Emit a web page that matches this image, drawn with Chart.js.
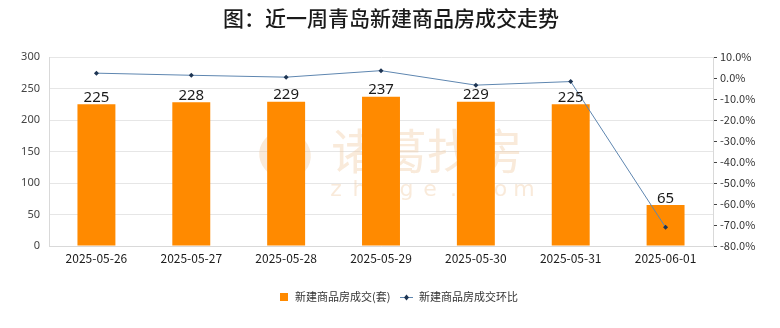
<!DOCTYPE html>
<html>
<head>
<meta charset="utf-8">
<script src="https://cdn.jsdelivr.net/npm/chart.js@4"></script>
<style>
html,body{margin:0;padding:0;background:#fff;}
#wrap{width:780px;height:328px;position:relative;}
</style>
</head>
<body>
<div id="wrap"><canvas id="c" width="780" height="328"></canvas></div>
<script>
const titleText = '图：近一周青岛新建商品房成交走势';
const categories = ['2025-05-26','2025-05-27','2025-05-28','2025-05-29','2025-05-30','2025-05-31','2025-06-01'];
const barLabel = '新建商品房成交(套)';
const lineLabel = '新建商品房成交环比';
const deals = [225, 228, 229, 237, 229, 225, 65];
const dealsMoM = [2.3, 1.3, 0.4, 3.5, -3.4, -1.7, -71.1];
const leftTicks = [0, 50, 100, 150, 200, 250, 300];
const rightTicks = [10, 0, -10, -20, -30, -40, -50, -60, -70, -80];

const CJK = '"Noto Sans CJK SC", "Noto Sans", sans-serif';
const BAR_COLOR = '#FF8A00';
const LINE_COLOR = '#5e86b0';
const POINT_COLOR = '#1e3553';

const watermark = {
  id: 'watermark',
  beforeDatasetsDraw(chart) {
    const ctx = chart.ctx;
    ctx.save();
    ctx.fillStyle = 'rgba(240,205,168,0.42)';
    ctx.font = '48px ' + CJK;
    ctx.textAlign = 'center';
    ctx.textBaseline = 'middle';
    ctx.fillText('诸葛找房', 427, 151);
    ctx.font = '22px "DejaVu Sans", sans-serif';
    const s = 'zhuge.com';
    for (let i = 0; i < s.length; i++) {
      ctx.fillText(s[i], 336 + i * 23.5, 190);
    }
    ctx.beginPath();
    ctx.ellipse(285, 155, 26, 24, 0.3, 0, Math.PI * 2);
    ctx.fill();
    ctx.restore();
  }
};

const extras = {
  id: 'extras',
  afterDatasetsDraw(chart) {
    const ctx = chart.ctx;
    ctx.save();
    const meta = chart.getDatasetMeta(0);
    ctx.fillStyle = '#1a1a1a';
    ctx.font = '15px "Noto Sans", sans-serif';
    ctx.textAlign = 'center';
    ctx.textBaseline = 'bottom';
    meta.data.forEach((bar, i) => {
      ctx.fillText(String(deals[i]), bar.x, bar.y + 1);
    });
    ctx.restore();
  },
  afterDraw(chart) {
    const ctx = chart.ctx;
    ctx.save();
    ctx.fillStyle = '#1a1a1a';
    ctx.font = '500 21px ' + CJK;
    ctx.textAlign = 'center';
    ctx.textBaseline = 'middle';
    ctx.fillText(titleText, 391, 18);
    const ly = 297;
    ctx.font = '11px ' + CJK;
    ctx.textBaseline = 'middle';
    ctx.textAlign = 'left';
    ctx.fillStyle = BAR_COLOR;
    ctx.fillRect(280, ly - 4, 8, 8);
    ctx.fillStyle = '#333';
    ctx.fillText(barLabel, 295, ly);
    ctx.strokeStyle = LINE_COLOR;
    ctx.lineWidth = 1;
    ctx.beginPath();
    ctx.moveTo(400, ly + 0.5);
    ctx.lineTo(413, ly + 0.5);
    ctx.stroke();
    ctx.fillStyle = POINT_COLOR;
    ctx.beginPath();
    ctx.moveTo(406.5, ly - 2.5);
    ctx.lineTo(409, ly + 0.5);
    ctx.lineTo(406.5, ly + 3.5);
    ctx.lineTo(404, ly + 0.5);
    ctx.closePath();
    ctx.fill();
    ctx.fillStyle = '#333';
    ctx.fillText(lineLabel, 419, ly);
    ctx.restore();
  }
};

new Chart(document.getElementById('c'), {
  data: {
    labels: categories,
    datasets: [
      {
        type: 'bar',
        label: barLabel,
        data: deals,
        backgroundColor: BAR_COLOR,
        yAxisID: 'y',
        barPercentage: 0.4,
        categoryPercentage: 1,
        order: 2
      },
      {
        type: 'line',
        label: lineLabel,
        data: dealsMoM,
        yAxisID: 'y1',
        borderColor: LINE_COLOR,
        borderWidth: 1,
        pointStyle: 'rectRot',
        pointRadius: 2.5,
        pointBackgroundColor: POINT_COLOR,
        pointBorderColor: POINT_COLOR,
        pointBorderWidth: 0,
        tension: 0,
        order: 1
      }
    ]
  },
  options: {
    responsive: false,
    animation: false,
    devicePixelRatio: 1,
    layout: { padding: { top: 57, bottom: 40, left: 0, right: 0 } },
    plugins: {
      legend: { display: false },
      title: { display: false },
      tooltip: { enabled: false }
    },
    scales: {
      x: {
        grid: { display: false, drawTicks: false },
        border: { display: true, color: '#d9d9d9' },
        ticks: {
          color: '#1a1a1a',
          font: { size: 12, family: CJK },
          padding: 5,
          maxRotation: 0,
          autoSkip: false
        },
        afterFit(scale) { scale.height = 42; }
      },
      y: {
        position: 'left',
        min: 0,
        max: 300,
        afterBuildTicks(scale) { scale.ticks = leftTicks.map(v => ({ value: v })); },
        grid: { color: '#e6e6e6', drawTicks: false },
        border: { display: true, color: '#d9d9d9' },
        ticks: {
          color: '#444',
          font: { size: 11, family: '"Noto Sans", sans-serif' },
          padding: 9
        },
        afterFit(scale) { scale.width = 49; }
      },
      y1: {
        position: 'right',
        min: -80,
        max: 10,
        ticks: {
          stepSize: 5,
          color: '#333',
          font: { size: 11, family: '"Noto Sans CJK JP", sans-serif' },
          padding: 3,
          callback(v) {
            return rightTicks.includes(v) ? v.toFixed(1) + '%' : '';
          }
        },
        grid: { drawOnChartArea: false, drawTicks: true, tickLength: 4, color: '#444' },
        border: { display: true, color: '#d9d9d9' },
        afterFit(scale) { scale.width = 67; }
      }
    }
  },
  plugins: [watermark, extras]
});
</script>
</body>
</html>
